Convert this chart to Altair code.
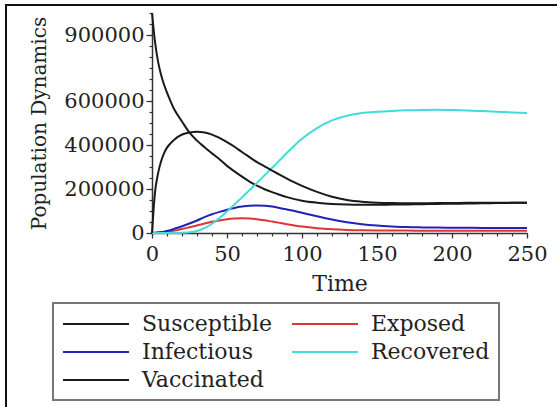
import altair as alt
import pandas as pd

t = [0, 2, 4, 6, 8, 10, 12, 15, 18, 21, 25, 30, 35, 40, 45, 50, 55, 60, 65, 70, 75, 80, 85, 90, 95,
     100, 110, 120, 130, 140, 150, 160, 170, 180, 190, 200, 210, 220, 230, 240, 250]

susceptible = [1000000, 870000, 780000, 720000, 675000, 638000, 605000, 560000, 527000, 496000, 456000,
               420000, 390000, 362000, 335000, 305000, 280000, 256000, 234000, 215000, 199000, 186000,
               174000, 163000, 154000, 147000, 138000, 132000, 129000, 128000, 128000, 129000, 130000,
               131000, 132000, 133000, 134000, 135000, 136000, 137000, 138000]
exposed = [0, 1000, 2000, 3000, 4500, 6000, 8000, 11000, 15000, 20000, 26000, 34000, 43000, 51000, 57000,
           62000, 65500, 67000, 66000, 63000, 58000, 52000, 46000, 40000, 34500, 29500, 22000, 17000,
           14000, 12500, 11500, 11000, 10800, 10600, 10400, 10300, 10200, 10100, 10000, 10000, 10000]
infectious = [0, 1000, 2500, 4000, 6000, 9000, 13000, 19000, 26000, 33000, 43000, 57000, 72000, 85000,
              96000, 106000, 114000, 120000, 124000, 125000, 124000, 120000, 114000, 107000, 100000, 92000,
              76000, 61000, 49000, 40000, 34000, 30000, 27000, 25500, 24500, 24000, 23500, 23000, 23000,
              22500, 22500]
recovered = [0, 0, 0, 0, 0, 0, 0, 0, 0, 1000, 3000, 9000, 22000, 42000, 68000, 98000, 130000, 162000,
             195000, 228000, 262000, 296000, 330000, 365000, 398000, 428000, 477000, 512000, 533000, 545000,
             551000, 555000, 558000, 559500, 560000, 559000, 557000, 554000, 551000, 548000, 545000]
vaccinated = [0, 185000, 270000, 325000, 362000, 388000, 405000, 425000, 440000, 450000, 457000, 460000,
              457000, 447000, 432000, 413000, 392000, 368000, 345000, 322000, 303000, 284000, 265000,
              247000, 230000, 214000, 187000, 165000, 150000, 142000, 138000, 136000, 135000, 135000,
              136000, 136000, 137000, 137000, 138000, 138000, 138000]

# legend order (filled column by column: Susceptible/Infectious/Vaccinated, then Exposed/Recovered)
series_names = ["Susceptible", "Infectious", "Vaccinated", "Exposed", "Recovered"]
series_colors = ["#1a1a1a", "#2222bb", "#1a1a1a", "#dd3535", "#40dcdc"]
series_values = {"Susceptible": susceptible, "Exposed": exposed, "Infectious": infectious,
                 "Recovered": recovered, "Vaccinated": vaccinated}

x_major = [0, 50, 100, 150, 200, 250]
x_minor = list(range(0, 251, 10))
y_major = [0, 200000, 400000, 600000, 900000]
y_minor = list(range(0, 1000001, 50000))

rows = []
for name in ["Susceptible", "Exposed", "Infectious", "Recovered", "Vaccinated"]:
    for tt, v in zip(t, series_values[name]):
        rows.append({"t": tt, "v": v, "series": name})
df = pd.DataFrame(rows)

FONT = "DejaVu Serif"
xscale = alt.Scale(domain=[0, 250], nice=False)
yscale = alt.Scale(domain=[0, 1000000], nice=False)

lines = alt.Chart(df).mark_line(strokeWidth=2, interpolate="monotone").encode(
    x=alt.X("t:Q", scale=xscale,
            axis=alt.Axis(values=x_major, title="Time", orient="bottom", tickSize=5,
                          labelPadding=5, titlePadding=9, grid=False, labelFlush=False)),
    y=alt.Y("v:Q", scale=yscale,
            axis=alt.Axis(values=y_major, title="Population Dynamics", orient="left", format="d",
                          tickSize=6, labelPadding=2, titlePadding=14, grid=False,
                          titleFontSize=20)),
    color=alt.Color("series:N", sort=series_names,
                    scale=alt.Scale(domain=series_names, range=series_colors),
                    legend=alt.Legend(title=None, orient="none", legendX=-99, legendY=290,
                                      columns=2, symbolType="M-1,0L5,0", symbolSize=484,
                                      symbolStrokeWidth=2, labelFont=FONT, labelFontSize=22,
                                      labelOffset=56, columnPadding=16, rowPadding=5,
                                      padding=9, labelColor="#222")),
    order=alt.Order("t:Q"),
)

minor = alt.Chart(df).mark_line(opacity=0).encode(
    x=alt.X("t:Q", scale=xscale,
            axis=alt.Axis(values=x_minor, labels=False, title=None, orient="bottom", tickSize=3,
                          domain=False, grid=False)),
    y=alt.Y("v:Q", scale=yscale,
            axis=alt.Axis(values=y_minor, labels=False, title=None, orient="left", tickSize=3,
                          domain=False, grid=False)),
    detail="series:N",
)

frame_df = pd.DataFrame({"k": [0]})
left_line = alt.Chart(frame_df).mark_rule(color="#111", strokeWidth=2).encode(
    x=alt.value(-146), y=alt.value(-8), y2=alt.value(394))
top_line = alt.Chart(frame_df).mark_rule(color="#111", strokeWidth=2).encode(
    x=alt.value(-147), x2=alt.value(405), y=alt.value(-8))

chart = alt.layer(minor, lines, left_line, top_line).resolve_axis(
    x="independent", y="independent"
).properties(
    width=375, height=220,
    autosize=alt.AutoSizeParams(type="none"),
    padding={"left": 152, "top": 13, "right": 30, "bottom": 174},
    background="white",
).configure_view(stroke=None).configure_axis(
    labelFont=FONT, labelFontSize=21, labelColor="#222",
    titleFont=FONT, titleFontSize=22, titleFontWeight="normal", titleColor="#222",
    domainColor="#333", tickColor="#333", domainWidth=1.5, tickWidth=1.2,
).configure_legend(
    strokeColor="#777", strokeWidth=2, fillColor="white", cornerRadius=0,
)

chart.save("out.html", embed_options={"renderer": "svg", "actions": False})
